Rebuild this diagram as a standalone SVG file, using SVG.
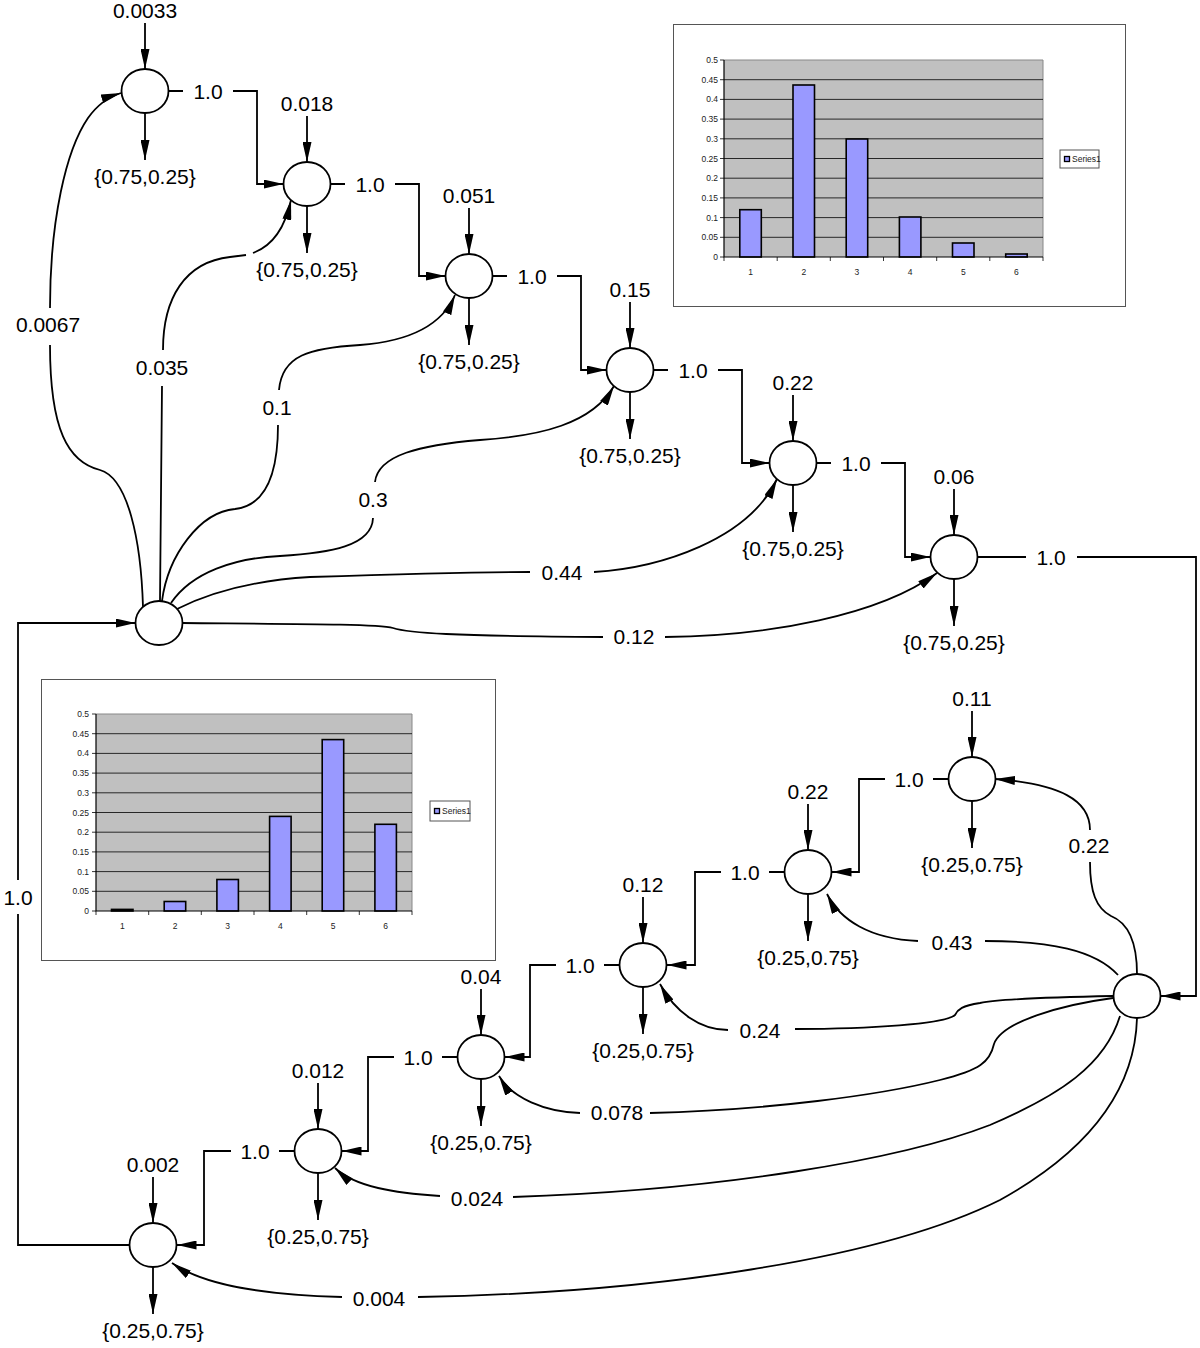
<svg xmlns="http://www.w3.org/2000/svg" width="1200" height="1348" viewBox="0 0 1200 1348">
<style>
.ln{fill:none;stroke:#000;stroke-width:1.8}
.ar{marker-end:url(#ah)}
.nd{fill:#fff;stroke:#000;stroke-width:1.8}
.t{font-family:"Liberation Sans",Arial,Helvetica,sans-serif;font-size:21px;text-anchor:middle;fill:#000}
.ct{font-family:"Liberation Sans",Arial,Helvetica,sans-serif;font-size:8.5px;fill:#222}
.cy{text-anchor:end}
.cx{text-anchor:middle}
.bar{fill:#9999FF;stroke:#000;stroke-width:1.6}
.grid{stroke:#000;stroke-width:0.8;fill:none}
.box{fill:#fff;stroke:#555;stroke-width:1}
.plot{fill:#C0C0C0;stroke:none}
.pb{fill:none;stroke:#888;stroke-width:1}
</style>
<defs>
<marker id="ah" viewBox="0 0 20 9" refX="20" refY="4.5" markerWidth="20" markerHeight="9" orient="auto" markerUnits="userSpaceOnUse">
<path d="M0,0 L20,4.5 L0,9 z" fill="#000"/>
</marker>
</defs>
<rect width="1200" height="1348" fill="#fff"/>

<g id="chart-top">
<rect class="box" x="673.5" y="24.5" width="452" height="282"/>
<rect class="plot" x="724" y="60" width="319" height="197"/>
<path class="pb" d="M724,60 H1043 V257"/>
<path class="grid" d="M724,79.7H1043M724,99.4H1043M724,119.1H1043M724,138.8H1043M724,158.5H1043M724,178.2H1043M724,197.9H1043M724,217.6H1043M724,237.3H1043"/>
<path class="grid" d="M720,60H724M720,79.7H724M720,99.4H724M720,119.1H724M720,138.8H724M720,158.5H724M720,178.2H724M720,197.9H724M720,217.6H724M720,237.3H724M720,257H724"/>
<path class="grid" d="M777.2,257V261M830.3,257V261M883.5,257V261M936.7,257V261M989.8,257V261M1043,257V261M724,257V261"/>
<rect class="bar" x="739.8" y="209.7" width="21.5" height="47.3"/>
<rect class="bar" x="793" y="85" width="21.5" height="172"/>
<rect class="bar" x="846.2" y="139" width="21.5" height="118"/>
<rect class="bar" x="899.4" y="217" width="21.5" height="40"/>
<rect class="bar" x="952.5" y="243" width="21.5" height="14"/>
<rect class="bar" x="1005.7" y="254" width="21.5" height="3"/>
<path stroke="#000" stroke-width="1.2" fill="none" d="M724,60V257H1043"/>
<g class="ct cy">
<text x="718" y="63">0.5</text><text x="718" y="82.7">0.45</text><text x="718" y="102.4">0.4</text><text x="718" y="122.1">0.35</text><text x="718" y="141.8">0.3</text><text x="718" y="161.5">0.25</text><text x="718" y="181.2">0.2</text><text x="718" y="200.9">0.15</text><text x="718" y="220.6">0.1</text><text x="718" y="240.3">0.05</text><text x="718" y="260">0</text>
</g>
<g class="ct cx">
<text x="750.6" y="275">1</text><text x="803.8" y="275">2</text><text x="856.9" y="275">3</text><text x="910.1" y="275">4</text><text x="963.3" y="275">5</text><text x="1016.4" y="275">6</text>
</g>
<rect x="1060" y="150" width="39" height="18" fill="#fff" stroke="#555" stroke-width="1"/>
<rect x="1064.5" y="156.5" width="5" height="5" fill="#9999FF" stroke="#000" stroke-width="1.3"/>
<text class="ct" x="1072" y="162" font-size="7.5">Series1</text>
</g>

<g id="chart-bottom">
<rect class="box" x="41.5" y="679.5" width="454" height="281"/>
<rect class="plot" x="96" y="714" width="316" height="197"/>
<path class="pb" d="M96,714 H412 V911"/>
<path class="grid" d="M96,733.7H412M96,753.4H412M96,773.1H412M96,792.8H412M96,812.5H412M96,832.2H412M96,851.9H412M96,871.6H412M96,891.3H412"/>
<path class="grid" d="M92,714H96M92,733.7H96M92,753.4H96M92,773.1H96M92,792.8H96M92,812.5H96M92,832.2H96M92,851.9H96M92,871.6H96M92,891.3H96M92,911H96"/>
<path class="grid" d="M96,911V915M148.7,911V915M201.3,911V915M254,911V915M306.7,911V915M359.3,911V915M412,911V915"/>
<rect class="bar" x="111.5" y="909.4" width="21.5" height="1.6"/>
<rect class="bar" x="164.2" y="901.5" width="21.5" height="9.5"/>
<rect class="bar" x="216.9" y="879.5" width="21.5" height="31.5"/>
<rect class="bar" x="269.6" y="816.4" width="21.5" height="94.6"/>
<rect class="bar" x="322.2" y="739.6" width="21.5" height="171.4"/>
<rect class="bar" x="374.9" y="824.3" width="21.5" height="86.7"/>
<path stroke="#000" stroke-width="1.2" fill="none" d="M96,714V911H412"/>
<g class="ct cy">
<text x="89" y="717">0.5</text><text x="89" y="736.7">0.45</text><text x="89" y="756.4">0.4</text><text x="89" y="776.1">0.35</text><text x="89" y="795.8">0.3</text><text x="89" y="815.5">0.25</text><text x="89" y="835.2">0.2</text><text x="89" y="854.9">0.15</text><text x="89" y="874.6">0.1</text><text x="89" y="894.3">0.05</text><text x="89" y="914">0</text>
</g>
<g class="ct cx">
<text x="122.3" y="929">1</text><text x="175" y="929">2</text><text x="227.7" y="929">3</text><text x="280.3" y="929">4</text><text x="333" y="929">5</text><text x="385.7" y="929">6</text>
</g>
<rect x="430" y="801" width="40" height="20" fill="#fff" stroke="#555" stroke-width="1"/>
<rect x="434.5" y="808.5" width="5" height="5" fill="#9999FF" stroke="#000" stroke-width="1.3"/>
<text class="ct" x="442" y="814" font-size="7.5">Series1</text>
</g>

<g id="connectors">
<!-- chain 1 -->
<path class="ln ar" d="M168.5,91 H183 M233,91 H257 V184 H283.5"/>
<path class="ln ar" d="M330.5,184 H345 M395,184 H419 V276 H445.5"/>
<path class="ln ar" d="M492.5,276 H507 M557,276 H581 V370 H606.5"/>
<path class="ln ar" d="M653.5,370 H668 M718,370 H742 V463 H769.5"/>
<path class="ln ar" d="M816.5,463 H831 M881,463 H905 V557 H930.5"/>
<path class="ln ar" d="M977.5,557 H1026 M1077,557 H1196 V996 H1160.5"/>
<!-- chain 2 -->
<path class="ln ar" d="M948.5,779 H933 M885,779 H859 V872 H831.5"/>
<path class="ln ar" d="M784.5,872 H769 M721,872 H695 V965 H666.5"/>
<path class="ln ar" d="M619.5,965 H604 M556,965 H530 V1057 H504.5"/>
<path class="ln ar" d="M457.5,1057 H442 M394,1057 H368 V1151 H341.5"/>
<path class="ln ar" d="M294.5,1151 H279 M231,1151 H204 V1245 H176.5"/>
<path class="ln ar" d="M129.5,1245 H18 V914 M18,880 V623 H135.5"/>
<!-- S fan -->
<path class="ln ar" d="M143,607 C141,540 128,478 100,470 C68,462 50,430 50,345 M50,308 C50,220 66,150 88,118 C98,104 108,97 121,93"/>
<path class="ln ar" d="M160,601 L162,386 M163,350 C163,298 185,262 230,257 L246,255 M253,253 C272,246 285,228 291,200"/>
<path class="ln ar" d="M162,601 C168,555 200,512 235,509 C262,506 278,480 278,425 M279,390 C282,355 310,348 360,345 C400,342 440,330 455,295"/>
<path class="ln ar" d="M171,603 C192,572 235,558 280,556 C330,553 372,546 373,518 M375,482 C378,455 420,445 480,440 C540,436 592,424 614,386"/>
<path class="ln ar" d="M177,609 C215,590 260,580 310,577 C400,574 480,572 530,572 M594,572 C660,568 748,540 777,479"/>
<path class="ln ar" d="M182,623 C300,624 378,624 393,628 C408,633 450,636 603,637 M665,637 C770,636 880,615 937,573"/>
<!-- T fan -->
<path class="ln ar" d="M1137,974 C1137,938 1126,922 1111,916 C1096,908 1090,892 1090,862 M1090,830 C1090,800 1060,784 995,779"/>
<path class="ln ar" d="M1118,975 C1095,950 1050,941 985,941 M918,941 C870,939 840,920 827,894"/>
<path class="ln ar" d="M1113,996 C1060,997 1000,999 980,1003 C962,1006 958,1009 955,1015 C945,1024 870,1029 795,1029 M728,1030 C700,1030 675,1012 660,984"/>
<path class="ln ar" d="M1113,998 C1060,1005 1002,1022 994,1044 C990,1062 980,1070 940,1080 C880,1095 770,1110 650,1113 M580,1113 C545,1112 512,1098 499,1076"/>
<path class="ln ar" d="M1120,1016 C1105,1065 1060,1095 990,1125 C900,1160 720,1190 513,1197 M440,1196 C395,1193 355,1187 335,1168"/>
<path class="ln ar" d="M1137,1018 C1135,1090 1090,1150 1000,1200 C880,1260 650,1293 418,1297 M342,1297 C265,1295 205,1286 172,1263"/>
<!-- in/out arrows -->
<path class="ln ar" d="M145,23 V69"/><path class="ln ar" d="M145,113 V160"/>
<path class="ln ar" d="M307,116 V162"/><path class="ln ar" d="M307,206 V253"/>
<path class="ln ar" d="M469,208 V254"/><path class="ln ar" d="M469,298 V345"/>
<path class="ln ar" d="M630,302 V348"/><path class="ln ar" d="M630,392 V439"/>
<path class="ln ar" d="M793,395 V441"/><path class="ln ar" d="M793,485 V532"/>
<path class="ln ar" d="M954,489 V535"/><path class="ln ar" d="M954,579 V626"/>
<path class="ln ar" d="M972,711 V757"/><path class="ln ar" d="M972,801 V848"/>
<path class="ln ar" d="M808,804 V850"/><path class="ln ar" d="M808,894 V941"/>
<path class="ln ar" d="M643,897 V943"/><path class="ln ar" d="M643,987 V1034"/>
<path class="ln ar" d="M481,989 V1035"/><path class="ln ar" d="M481,1079 V1126"/>
<path class="ln ar" d="M318,1083 V1129"/><path class="ln ar" d="M318,1173 V1220"/>
<path class="ln ar" d="M153,1177 V1223"/><path class="ln ar" d="M153,1267 V1314"/>
</g>

<g id="edge-labels" class="t">
<text x="208" y="99">1.0</text><text x="370" y="192">1.0</text><text x="532" y="284">1.0</text><text x="693" y="378">1.0</text><text x="856" y="471">1.0</text><text x="1051" y="565">1.0</text>
<text x="909" y="787">1.0</text><text x="745" y="880">1.0</text><text x="580" y="973">1.0</text><text x="418" y="1065">1.0</text><text x="255" y="1159">1.0</text><text x="18" y="905">1.0</text>
<text x="48" y="332">0.0067</text><text x="162" y="375">0.035</text><text x="277" y="415">0.1</text><text x="373" y="507">0.3</text><text x="562" y="580">0.44</text><text x="634" y="644">0.12</text>
<text x="1089" y="853">0.22</text><text x="952" y="950">0.43</text><text x="760" y="1038">0.24</text><text x="617" y="1120">0.078</text><text x="477" y="1206">0.024</text><text x="379" y="1306">0.004</text>
</g>

<g id="node-S"><ellipse class="nd" cx="159" cy="623" rx="23.5" ry="22"/></g>
<g id="node-T"><ellipse class="nd" cx="1137" cy="996" rx="23.5" ry="22"/></g>
<g id="node-N1" class="t"><ellipse class="nd" cx="145" cy="91" rx="23.5" ry="22"/><text x="145" y="18">0.0033</text><text x="145" y="184">{0.75,0.25}</text></g>
<g id="node-N2" class="t"><ellipse class="nd" cx="307" cy="184" rx="23.5" ry="22"/><text x="307" y="111">0.018</text><text x="307" y="277">{0.75,0.25}</text></g>
<g id="node-N3" class="t"><ellipse class="nd" cx="469" cy="276" rx="23.5" ry="22"/><text x="469" y="203">0.051</text><text x="469" y="369">{0.75,0.25}</text></g>
<g id="node-N4" class="t"><ellipse class="nd" cx="630" cy="370" rx="23.5" ry="22"/><text x="630" y="297">0.15</text><text x="630" y="463">{0.75,0.25}</text></g>
<g id="node-N5" class="t"><ellipse class="nd" cx="793" cy="463" rx="23.5" ry="22"/><text x="793" y="390">0.22</text><text x="793" y="556">{0.75,0.25}</text></g>
<g id="node-N6" class="t"><ellipse class="nd" cx="954" cy="557" rx="23.5" ry="22"/><text x="954" y="484">0.06</text><text x="954" y="650">{0.75,0.25}</text></g>
<g id="node-M1" class="t"><ellipse class="nd" cx="972" cy="779" rx="23.5" ry="22"/><text x="972" y="706">0.11</text><text x="972" y="872">{0.25,0.75}</text></g>
<g id="node-M2" class="t"><ellipse class="nd" cx="808" cy="872" rx="23.5" ry="22"/><text x="808" y="799">0.22</text><text x="808" y="965">{0.25,0.75}</text></g>
<g id="node-M3" class="t"><ellipse class="nd" cx="643" cy="965" rx="23.5" ry="22"/><text x="643" y="892">0.12</text><text x="643" y="1058">{0.25,0.75}</text></g>
<g id="node-M4" class="t"><ellipse class="nd" cx="481" cy="1057" rx="23.5" ry="22"/><text x="481" y="984">0.04</text><text x="481" y="1150">{0.25,0.75}</text></g>
<g id="node-M5" class="t"><ellipse class="nd" cx="318" cy="1151" rx="23.5" ry="22"/><text x="318" y="1078">0.012</text><text x="318" y="1244">{0.25,0.75}</text></g>
<g id="node-M6" class="t"><ellipse class="nd" cx="153" cy="1245" rx="23.5" ry="22"/><text x="153" y="1172">0.002</text><text x="153" y="1338">{0.25,0.75}</text></g>
</svg>
